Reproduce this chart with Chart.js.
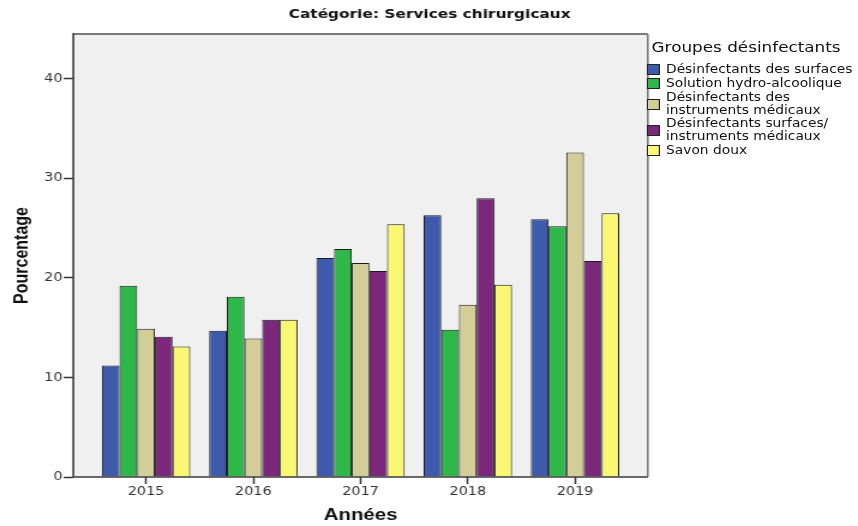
<!DOCTYPE html>
<html>
<head>
<meta charset="utf-8">
<script src="https://cdn.jsdelivr.net/npm/chart.js@4.4.1/dist/chart.umd.min.js"></script>
<style>
  html, body { margin: 0; padding: 0; background: #ffffff; overflow: hidden; }
  #wrap { position: absolute; left: 0; top: 0; width: 715px; height: 526px; transform: scaleX(1.2); transform-origin: 0 0; }
  #chart { position: absolute; left: 0; top: 0; }
  #legend { position: absolute; left: 539px; top: 37px; font-family: "DejaVu Sans", sans-serif; color: #111; }
  #legend .ttl { font-size: 14px; line-height: 20px; margin-left: 4px; white-space: nowrap; margin-bottom: 5px; }
  #legend .item { display: flex; align-items: center; white-space: pre; font-size: 11.5px; line-height: 13px; }
  #legend .item.one { height: 14.5px; }
  #legend .item.two { height: 26px; }
  #legend .sw { width: 9px; height: 9px; border: 1px solid #222; margin-right: 5px; flex: none; }
</style>
</head>
<body>
<div id="wrap">
  <canvas id="chart" width="715" height="526"></canvas>
  <div id="legend"></div>
</div>
<script>
// ---- data ----
const years = [2015, 2016, 2017, 2018, 2019];
const surfaces     = [11.2, 14.7, 22.0, 26.3, 25.9];
const hydroAlcool  = [19.2, 18.1, 22.9, 14.8, 25.2];
const instruments  = [14.9, 13.9, 21.5, 17.3, 32.6];
const surfInstr    = [14.1, 15.8, 20.7, 28.0, 21.7];
const savonDoux    = [13.1, 15.8, 25.4, 19.3, 26.5];
const yTicks = [0, 10, 20, 30, 40];
const seriesNames = [
  "Désinfectants des surfaces",
  "Solution hydro-alcoolique",
  "Désinfectants des\ninstruments médicaux",
  "Désinfectants surfaces/\ninstruments médicaux",
  "Savon doux"
];
const chartTitle = "Catégorie: Services chirurgicaux";
const legendTitle = "Groupes désinfectants";
const xTitle = "Années";
const yTitle = "Pourcentage";

const colors = ["#3d5aac", "#2eb84a", "#d3ce97", "#7b287c", "#faf773"];
const seriesValues = [surfaces, hydroAlcool, instruments, surfInstr, savonDoux];

const datasets = seriesValues.map((vals, i) => ({
  label: seriesNames[i].replace("\n", " "),
  data: vals.map((v, j) => ({ x: years[j], y: v })),
  backgroundColor: colors[i],
  borderColor: "#1c1c1c",
  borderWidth: 1,
  categoryPercentage: 0.824,
  barPercentage: 1.0
}));

const framePlugin = {
  id: "frame",
  beforeDraw(chart) {
    const { ctx, chartArea: a } = chart;
    ctx.save();
    ctx.fillStyle = "#f0f0f0";
    ctx.fillRect(a.left, a.top, a.right - a.left, a.bottom - a.top);
    ctx.restore();
  },
  afterDatasetsDraw(chart) {
    const { ctx, chartArea: a } = chart;
    ctx.save();
    ctx.strokeStyle = "#7a7a7a";
    ctx.lineWidth = 2;
    ctx.beginPath();
    ctx.moveTo(a.left, a.top); ctx.lineTo(a.right, a.top);
    ctx.stroke();
    ctx.lineWidth = 1.6;
    ctx.beginPath();
    ctx.moveTo(a.right, a.top); ctx.lineTo(a.right, a.bottom);
    ctx.stroke();
    ctx.strokeStyle = "#3a3a3a";
    ctx.lineWidth = 1.6;
    ctx.beginPath();
    ctx.moveTo(a.left, a.top - 1); ctx.lineTo(a.left, a.bottom);
    ctx.stroke();
    ctx.lineWidth = 1.6;
    ctx.beginPath();
    ctx.moveTo(a.left, a.bottom); ctx.lineTo(a.right, a.bottom);
    ctx.stroke();
    ctx.restore();
  },
  afterDraw(chart) {
    const ctx = chart.ctx;
    ctx.save();
    ctx.font = "bold 12.8px 'DejaVu Sans', sans-serif";
    ctx.fillStyle = "#111";
    ctx.textAlign = "center";
    ctx.textBaseline = "middle";
    ctx.fillText(chartTitle, 358, 14.5);
    ctx.restore();
  }
};

new Chart(document.getElementById("chart"), {
  type: "bar",
  data: { datasets },
  plugins: [framePlugin],
  options: {
    responsive: false,
    animation: false,
    devicePixelRatio: 1,
    layout: { padding: { top: 34, right: 175.2, left: 0, bottom: 0 } },
    plugins: { legend: { display: false }, tooltip: { enabled: false }, title: { display: false } },
    scales: {
      x: {
        type: "linear",
        offset: false,
        min: 2014.322,
        max: 2019.678,
        afterBuildTicks: (s) => { s.ticks = years.map(v => ({ value: v })); },
        afterFit: (s) => { s.height = 49; },
        border: { display: false },
        grid: { display: true, offset: false, drawOnChartArea: false, drawTicks: true, tickLength: 7, tickColor: "#333", tickWidth: 1.5 },
        ticks: {
          padding: 1,
          color: "#333",
          font: { family: "'DejaVu Sans', sans-serif", size: 12 },
          maxRotation: 0,
          callback: (v) => String(v)
        },
        title: {
          display: true,
          text: xTitle,
          color: "#111",
          font: { family: "'Liberation Sans', Arial, sans-serif", size: 17, weight: "bold" },
          padding: { top: 0, bottom: 0 }
        }
      },
      y: {
        type: "linear",
        min: 0,
        max: 44.5,
        afterBuildTicks: (s) => { s.ticks = yTicks.map(v => ({ value: v })); },
        afterFit: (s) => { s.width = 61.1; },
        border: { display: false },
        grid: { display: true, drawOnChartArea: false, drawTicks: true, tickLength: 8, tickColor: "#333", tickWidth: 1.5 },
        ticks: {
          padding: 1,
          color: "#333",
          font: { family: "'DejaVu Sans', sans-serif", size: 12 }
        },
        title: {
          display: true,
          text: yTitle,
          color: "#111",
          font: { family: "'Liberation Sans Narrow', 'Liberation Sans', Arial, sans-serif", size: 16, weight: "bold" },
          padding: { top: 8.7, bottom: 0 }
        }
      }
    }
  }
});

// HTML legend
const lg = document.getElementById("legend");
const t = document.createElement("div");
t.className = "ttl";
t.textContent = legendTitle;
lg.appendChild(t);
seriesNames.forEach((name, i) => {
  const it = document.createElement("div");
  it.className = "item " + (name.includes("\n") ? "two" : "one");
  const sw = document.createElement("span");
  sw.className = "sw";
  sw.style.background = colors[i];
  const tx = document.createElement("span");
  tx.textContent = name;
  it.appendChild(sw);
  it.appendChild(tx);
  lg.appendChild(it);
});
</script>
</body>
</html>
